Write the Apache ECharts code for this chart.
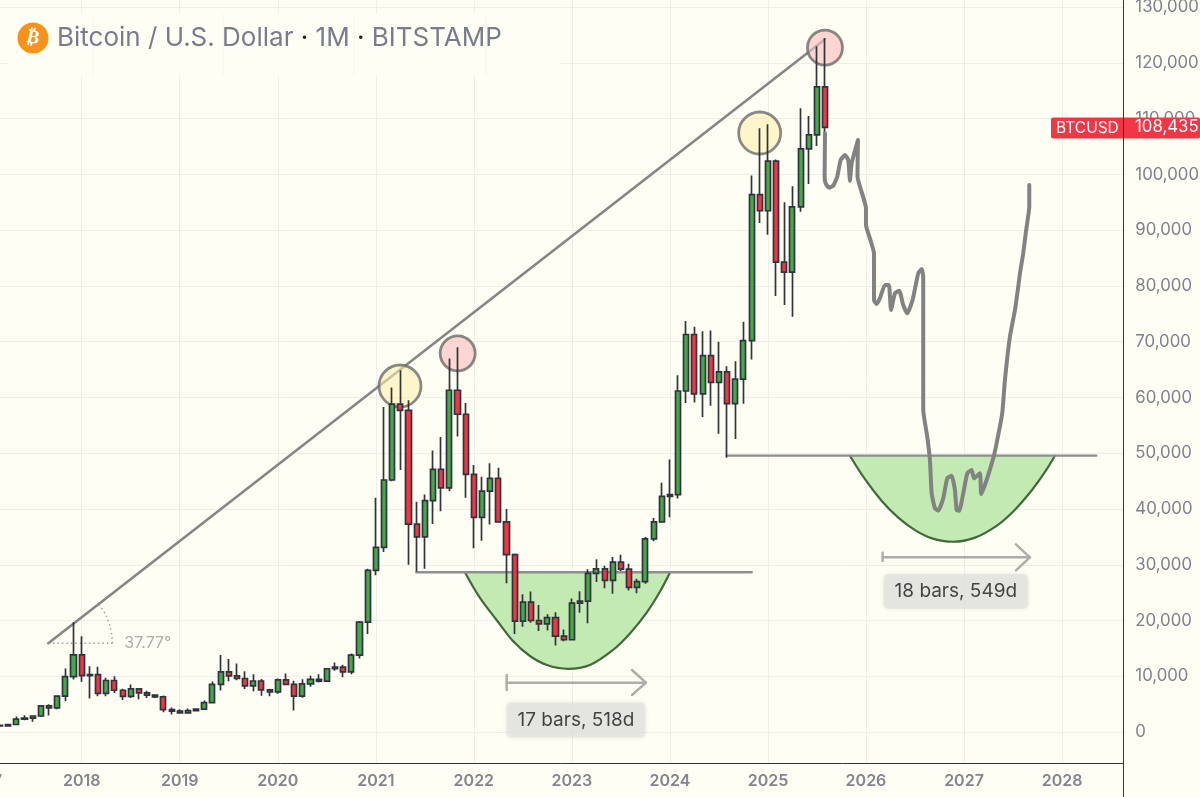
<!DOCTYPE html>
<html><head><meta charset="utf-8">
<style>html,body{margin:0;padding:0;background:#fffef5;overflow:hidden}#c{width:1200px;height:797px}</style>
<script src="https://cdn.jsdelivr.net/npm/echarts@6/dist/echarts.min.js"></script>
</head><body><div id="c"></div>
<script>
// Monthly candles, first candle 2017-01, all values in USD
const startYear = 2017;
const opens  = [968,970,1190,1080,1350,2300,2480,2870,4700,4340,6450,9950, 13850,10100,10300,6930,9240,7490,6390,7730,7010,6620,6300,4020, 3740,3440,3830,4100,5270,8550,10800,10080,9600,8290,9150,7540, 7190,9350,8530,6420,8630,9450,9140,11350,11650,10780,13800,19700, 29000,33100,45200,58800,57700,37300,35000,41500,47100,43800,61300,57000, 46200,38500,43200,45500,37700,31800,19900,23300,20000,19400,20500,17200, 16550,23130,23480,28470,29250,27200,30470,29230,25940,26970,34650,37700, 42280,42580,61170,71300,60650,67500,62700,64600,58900,63300,70200,96400, 93500,102400,84300,82500,94200,104600,107100,115700];
const closes = [970,1190,1080,1350,2300,2480,2870,4700,4340,6450,9950,13850, 10100,10300,6930,9240,7490,6390,7730,7010,6620,6300,4020,3740, 3440,3830,4100,5270,8550,10800,10080,9600,8290,9150,7540,7190, 9350,8530,6420,8630,9450,9140,11350,11650,10780,13800,19700,29000, 33100,45200,58800,57700,37300,35000,41500,47100,43800,61300,57000,46200, 38500,43200,45500,37700,31800,19900,23300,20000,19400,20500,17200,16550, 23130,23480,28470,29250,27200,30470,29230,25940,26970,34650,37700,42280, 42580,61170,71300,60650,67500,62700,64600,58900,63300,70200,96400,93500, 102400,84300,82500,94200,104600,107100,115700,108435];
const lows   = [750,900,890,1060,1350,2100,1830,2700,2970,4100,5500,9400, 9000,6000,6400,6430,7000,5750,6100,5880,6100,6100,3550,3120, 3350,3350,3700,4050,5250,7450,9100,9300,7700,7300,6500,6430, 6850,8450,3850,6150,8110,8900,9000,11000,9820,10370,13200,17600, 28100,32300,45000,47000,30000,28800,29300,37300,39600,43200,53000,42000, 32950,34300,37200,37600,26700,17600,18900,19600,18100,18200,15500,16300, 16500,21400,19500,26900,25800,24800,28900,25400,24900,26600,34200,37600, 38500,41900,59000,59100,56500,58500,53500,49200,52550,58900,66800,91300, 89200,78200,76600,74500,93300,98300,105100,107300];
const highs  = [1150,1200,1350,1360,2790,3000,2900,4800,5000,6470,11400,19666, 17170,11780,11700,9750,10000,7750,8500,7730,7400,6750,6540,4400, 4100,4200,4130,5640,9080,13800,13100,12300,10900,10350,9500,7750, 9590,10500,9200,9450,10080,10380,11400,12470,12050,14100,19900,29300, 42000,58300,61800,64900,59500,41300,42600,50500,52900,67000,69000,59000, 47900,45800,48200,47400,40000,32000,24700,25200,22800,21100,21500,18400, 23950,25250,29200,31000,29800,31400,31800,30200,27500,35000,38400,44700, 48900,64000,73700,72700,71900,72000,70000,65600,66500,73600,99800,108300, 109000,102700,95000,97900,111900,110500,123000,124500];
const yTickValues = [0,10000,20000,30000,40000,50000,60000,70000,80000,90000,100000,110000,120000,130000];
const monthCount = 140;
const months = Array.from({length:monthCount},(_,i)=>`${startYear+Math.floor(i/12)}-${String(i%12+1).padStart(2,'0')}`);

// Drawings: [months since 2018-01, price in thousands]
const trendLine = [[-4.09,15.91],[91.0,124.25]];
const angleBase = [[-4.09,15.91],[3.75,15.91]];
const angleArc  = [[3.75,15.91],[3.62,17.90],[3.27,19.84],[2.69,21.65],[2.11,22.94]];
const neckline1 = [[40.95,28.65],[82.0,28.65]];
const neckline2 = [[78.95,49.56],[124.2,49.56]];
const cup1 = [[46.92,28.61],[48.75,24.04],[50.83,20.0],[52.79,16.32],[54.87,13.63],[56.95,12.02],[59.52,11.34],[62.21,12.02],[65.03,14.71],[67.11,17.67],[69.2,21.52],[70.79,25.2],[72.01,28.61]];
const cup2 = [[94.04,49.56],[95.88,45.34],[97.96,41.39],[99.92,38.49],[102.0,36.2],[104.08,34.74],[106.65,34.13],[109.35,34.87],[112.16,37.17],[114.24,39.87],[116.32,43.4],[117.91,46.64],[119.13,49.56]];
const yellowCircles = [[38.96,62.06],[82.99,107.44]];
const pinkCircles   = [[46.02,67.93],[90.98,122.74]];
const range1Line = [[52.02,8.84],[69.07,8.84]];
const range1Tick = [[52.02,10.22],[52.02,7.53]];
const range1Head = [[67.36,11.12],[69.07,8.84],[67.36,6.64]];
const range2Line = [[98.04,31.34],[116.07,31.34]];
const range2Tick = [[98.04,32.16],[98.04,30.67]];
const range2Head = [[114.36,33.67],[116.07,31.34],[114.36,29.0]];
const projection = [[90.98,107.39],[90.94,99.6],[91.06,98.42],[91.47,97.63],[91.99,97.99],[92.48,99.6],[92.9,102.6],[93.43,103.5],[93.83,102.6],[94.04,98.89],[94.25,102.01],[95.02,106.19],[94.96,99.6],[95.47,96.86],[96.0,93.99],[96.0,90.94],[96.49,88.52],[96.98,85.87],[96.98,77.49],[97.31,76.77],[97.71,77.79],[98.32,80.18],[98.81,80.18],[99.06,75.7],[99.55,78.69],[100.07,79.16],[100.56,76.59],[101.05,75.1],[101.71,77.49],[102.4,82.28],[102.82,83.05],[103.01,81.67],[103.01,57.76],[103.5,52.97],[103.83,48.79],[104.04,42.82],[104.44,40.13],[104.85,39.69],[105.46,41.92],[105.95,45.51],[106.49,45.97],[106.89,43.41],[107.1,39.82],[107.42,39.69],[107.91,42.82],[108.4,46.4],[108.94,46.99],[109.22,45.51],[109.95,46.4],[110.11,42.69],[110.77,45.2],[111.58,49.09],[111.99,51.78],[112.68,57.17],[113.01,63.14],[113.62,70.91],[114.24,75.7],[114.64,79.87],[114.85,82.28],[115.25,85.87],[115.58,89.74],[115.99,94.22],[115.99,98.12]];
const notes = [{text:'17 bars, 518d',at:[60.5,2.15]},{text:'18 bars, 549d',at:[107.0,25.2]}];
const angleNote = {text:'37.77°',at:[8.1,15.91]};

const FONT = 'Inter, "Noto Sans", sans-serif';
const GRID = '#efefe9', TXT = '#7f818c', EDGE = '#30353b';
const usd = a => a.map(([m,k]) => [m,k*1000]);
const draw = (name,pts,color,width,z,extra) => Object.assign({
  name,type:'line',xAxisIndex:1,yAxisIndex:0,data:usd(pts),symbol:'none',silent:true,z,
  lineStyle:{color,width,cap:'round',join:'round'},animation:false},extra||{});
const cup = (name,pts) => draw(name,pts,'#41693c',2.2,3,{smooth:0.35,areaStyle:{color:'#c3eab2',opacity:1,origin:pts[0][1]*1000}});
const circles = (name,pts,size,fill) => ({name,type:'scatter',xAxisIndex:1,yAxisIndex:0,data:usd(pts),symbolSize:size,silent:true,z:5,animation:false,
  itemStyle:{color:fill,borderColor:'#6b6b6a',borderWidth:2.8}});
const noteSeries = n => ({name:n.text,type:'scatter',xAxisIndex:1,yAxisIndex:0,data:usd([n.at]),symbolSize:1,silent:true,z:8,animation:false,
  itemStyle:{color:'transparent'},
  label:{show:true,position:'inside',formatter:n.text,fontFamily:FONT,fontSize:19,color:'#18181a',backgroundColor:'#e4e3de',padding:[8,11],borderRadius:5,shadowBlur:5,shadowColor:'rgba(0,0,0,0.10)'}});
const ghost = x => ({type:'line',z:1,silent:true,shape:{x1:x,y1:14,x2:x,y2:76},style:{stroke:'#f4f4ee',lineWidth:1}});

const chart = echarts.init(document.getElementById('c'),null,{renderer:'canvas'});
chart.setOption({
  animation:false,
  backgroundColor:'#fffef5',
  grid:{left:-20.4,top:0,width:1143.7,height:763,containLabel:false,outerBoundsMode:'none'},
  xAxis:[{
    type:'category',data:months,boundaryGap:true,position:'bottom',
    axisLine:{show:true,onZero:false,lineStyle:{color:'#33363b',width:1}},axisTick:{show:false},
    axisLabel:{show:true,margin:10,interval:i=>months[i].endsWith('-01'),formatter:v=>v.slice(0,4),fontFamily:FONT,fontSize:16,fontWeight:600,color:'#84858f'},
    splitLine:{show:true,alignWithLabel:true,interval:i=>months[i].endsWith('-01'),lineStyle:{color:GRID,width:1}}
  },{type:'value',show:false,min:-12.5,max:127.5,splitLine:{show:false}}],
  yAxis:[{
    type:'value',position:'right',min:-5560,max:131300,
    axisLine:{show:true,onZero:false,lineStyle:{color:'#33363b',width:1}},
    axisTick:{show:false,customValues:yTickValues},
    axisLabel:{show:true,margin:12,customValues:yTickValues,formatter:v=>Number(v).toLocaleString('en-US'),fontFamily:FONT,fontSize:16.8,color:TXT,align:'left'},
    splitLine:{show:true,lineStyle:{color:GRID,width:1}}
  }],
  series:[
    {name:'BTCUSD',type:'candlestick',xAxisIndex:0,yAxisIndex:0,z:6,barWidth:5.6,silent:true,animation:false,
      data:opens.map((o,i)=>[o,closes[i],lows[i],highs[i]]),
      itemStyle:{color:'#46a84b',color0:'#f23645',borderColor:EDGE,borderColor0:EDGE,borderWidth:1.7}},
    cup('cup1',cup1),cup('cup2',cup2),
    draw('neckline1',neckline1,'#8f8f8f',2.4,4),
    draw('neckline2',neckline2,'#8f8f8f',2.2,4),
    draw('trend',trendLine,'#868686',2.6,4),
    draw('angleBase',angleBase,'#9a9a9a',1.4,4,{lineStyle:{color:'#9a9a9a',width:1.4,type:[1.5,3]}}),
    draw('angleArc',angleArc,'#9a9a9a',1.4,4,{smooth:0.4,lineStyle:{color:'#9a9a9a',width:1.4,type:[1.5,3]}}),
    circles('yellow',yellowCircles,42,'rgba(253,240,170,0.72)'),
    circles('pink',pinkCircles,35,'rgba(252,190,190,0.8)'),
    draw('range1',range1Line,'#acaca8',2.4,4),draw('range1t',range1Tick,'#acaca8',2.4,4),draw('range1h',range1Head,'#acaca8',2.4,4),
    draw('range2',range2Line,'#acaca8',2.4,4),draw('range2t',range2Tick,'#acaca8',2.4,4),draw('range2h',range2Head,'#acaca8',2.4,4),
    draw('projection',projection,'#828282',4,7,{smooth:0.15}),
    noteSeries(notes[0]),noteSeries(notes[1]),
    {name:'angle',type:'scatter',xAxisIndex:1,yAxisIndex:0,data:usd([angleNote.at]),symbolSize:1,silent:true,z:8,animation:false,itemStyle:{color:'transparent'},
      label:{show:true,position:'inside',formatter:angleNote.text,fontFamily:FONT,fontSize:16,color:'#9a9a9a'}}
  ],
  graphic:{elements:[
    {type:'rect',z:1,silent:true,shape:{x:8,y:14,width:552,height:62},style:{fill:'#fffef5'}},
    ghost(93),ghost(223),ghost(354),ghost(486),
    {type:'circle',z:20,silent:true,shape:{cx:33,cy:38,r:15.5},style:{fill:'#f7931a'}},
    {type:'text',z:21,silent:true,x:33,y:38,rotation:-0.22,originX:0,originY:0,style:{text:'₿',x:0,y:0,align:'center',verticalAlign:'middle',fill:'#fff',fontFamily:'"DejaVu Sans"',fontWeight:'bold',fontSize:19}},
    {type:'text',z:21,silent:true,x:57,y:38,style:{
      text:'{a|Bitcoin / U.S. Dollar }{d|·}{a| 1M }{d|·}{a| BITSTAMP}',verticalAlign:'middle',
      rich:{a:{fontFamily:FONT,fontSize:26,fill:'#787c8b'},d:{fontFamily:FONT,fontSize:26,fill:'#1b1b1b'}}}},
    {type:'rect',z:30,silent:true,shape:{x:1051,y:117.5,width:149,height:21,r:2},style:{fill:'#f23645'}},
    {type:'text',z:31,silent:true,x:1056,y:128,style:{text:'BTCUSD',verticalAlign:'middle',fill:'#fff',fontFamily:FONT,fontSize:15.5}},
    {type:'text',z:31,silent:true,x:1135,y:127,style:{text:'108,435',verticalAlign:'middle',fill:'#fff',fontFamily:FONT,fontSize:16.8}},
    {type:'line',z:32,silent:true,shape:{x1:1123.5,y1:0,x2:1123.5,y2:797},style:{stroke:'#33363b',lineWidth:1}}
  ]}
});
</script></body></html>
